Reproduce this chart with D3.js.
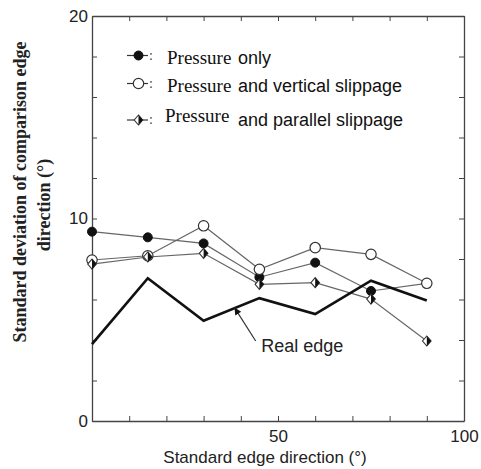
<!DOCTYPE html>
<html>
<head>
<meta charset="utf-8">
<script src="https://cdn.jsdelivr.net/npm/d3@7"></script>
<style>
  body { margin: 0; background: #fff; }
  svg { display: block; }
</style>
</head>
<body>
<div id="chart"></div>
<script>
// --------------- Data ---------------
const directions = [0, 15, 30, 45, 60, 75, 90];
const pressureOnly = [9.35, 9.07, 8.77, 7.1, 7.82, 6.42, 6.8];
const verticalSlip = [7.95, 8.16, 9.64, 7.49, 8.56, 8.23, 6.8];
const parallelSlip = [7.75, 8.1, 8.28, 6.75, 6.83, 6.02, 3.95];
const realEdge = [3.8, 7.05, 4.95, 6.07, 5.28, 6.93, 5.95];

const xTickValues = [0, 10, 20, 30, 40, 50, 60, 70, 80, 90, 100];
const xTickLabels = [50, 100];
const yTickValues = [0, 2, 4, 6, 8, 10, 12, 14, 16, 18, 20];
const yTickLabels = [0, 10, 20];

const legendNames = ["Pressure only", "Pressure and vertical slippage", "Pressure and parallel slippage"];
// arrow tip / tail and label position, in data units
const realEdgeNote = { tip: [38.3, 5.6], tail: [44, 3.95], label: [45.5, 3.42], text: "Real edge" };

// --------------- Constants ---------------
const WIDTH = 481;
const HEIGHT = 469;
const MARGINS = { top: 16, right: 17, bottom: 48, left: 92 };
const VIS_WIDTH = WIDTH - MARGINS.left - MARGINS.right;
const VIS_HEIGHT = HEIGHT - MARGINS.top - MARGINS.bottom;
const SANS = "Arial, 'Liberation Sans', sans-serif";
const SERIF = "'Times New Roman', 'Liberation Serif', serif";
const AXIS_COLOR = "#444";
const LINE_COLOR = "#666";

const svg = d3.select("#chart")
  .append("svg")
  .attr("width", WIDTH)
  .attr("height", HEIGHT);

const g = svg.append("g")
  .attr("transform", `translate(${MARGINS.left},${MARGINS.top})`);

const X_SCALE = d3.scaleLinear().domain([0, 100]).range([0, VIS_WIDTH]);
const Y_SCALE = d3.scaleLinear().domain([0, 20]).range([VIS_HEIGHT, 0]);

// --------------- Axes (ticks point inward on all four sides) ---------------
const styleAxis = (sel) => {
  sel.select(".domain").attr("stroke", AXIS_COLOR).attr("stroke-width", 1.3);
  sel.selectAll(".tick line").attr("stroke", AXIS_COLOR).attr("stroke-width", 1);
  sel.selectAll("text")
    .attr("font-family", SANS)
    .attr("font-size", "17px")
    .attr("fill", "#222");
};

g.append("g")
  .attr("transform", `translate(0,${VIS_HEIGHT})`)
  .call(d3.axisBottom(X_SCALE).tickValues(xTickValues).tickSize(-5).tickSizeOuter(0)
    .tickPadding(9).tickFormat((d) => (xTickLabels.includes(d) ? d : "")))
  .call(styleAxis);

g.append("g")
  .call(d3.axisTop(X_SCALE).tickValues(xTickValues).tickSize(-5).tickSizeOuter(0)
    .tickFormat(""))
  .call(styleAxis);

g.append("g")
  .call(d3.axisLeft(Y_SCALE).tickValues(yTickValues).tickSize(-5).tickSizeOuter(0)
    .tickPadding(4).tickFormat((d) => (yTickLabels.includes(d) ? d : "")))
  .call(styleAxis);

g.append("g")
  .attr("transform", `translate(${VIS_WIDTH},0)`)
  .call(d3.axisRight(Y_SCALE).tickValues(yTickValues).tickSize(-5).tickSizeOuter(0)
    .tickFormat(""))
  .call(styleAxis);

// --------------- Axis titles ---------------
svg.append("text")
  .attr("x", 265)
  .attr("y", HEIGHT - 6)
  .attr("text-anchor", "middle")
  .attr("font-family", SANS)
  .attr("font-size", "17px")
  .attr("fill", "#222")
  .text("Standard edge direction (°)");

const yTitle = svg.append("text")
  .attr("transform", "rotate(-90)")
  .attr("text-anchor", "middle")
  .attr("font-family", SERIF)
  .attr("font-weight", "bold")
  .attr("font-size", "18px")
  .attr("fill", "#222");
yTitle.append("tspan").attr("x", -192).attr("y", 26).text("Standard deviation of comparison edge");
yTitle.append("tspan").attr("x", -205).attr("y", 50).text("direction (°)");

// --------------- Markers ---------------
const drawMarker = (sel, kind) => {
  if (kind === "filled") {
    sel.append("circle").attr("r", 4.5).attr("fill", "#111").attr("stroke", "#111");
  } else if (kind === "open") {
    sel.append("circle").attr("r", 5.2).attr("fill", "#fff").attr("stroke", "#333").attr("stroke-width", 1.2);
  } else {
    sel.append("path").attr("d", "M0,-5L4.3,0L0,5L-4.3,0Z")
      .attr("fill", "#fff").attr("stroke", "#333").attr("stroke-width", 1.1);
    sel.append("path").attr("d", "M0,-5L4.3,0L0,5Z").attr("fill", "#111");
  }
};

const series = [
  { values: pressureOnly, kind: "filled" },
  { values: verticalSlip, kind: "open" },
  { values: parallelSlip, kind: "diamond" },
];

const line = d3.line()
  .x((d) => X_SCALE(d[0]))
  .y((d) => Y_SCALE(d[1]));

const pairs = (values) => directions.map((x, i) => [x, values[i]]);

// thin series lines
series.forEach((s) => {
  g.append("path")
    .datum(pairs(s.values))
    .attr("fill", "none")
    .attr("stroke", LINE_COLOR)
    .attr("stroke-width", 1.2)
    .attr("d", line);
});

// real edge: heavy black line
g.append("path")
  .datum(pairs(realEdge))
  .attr("fill", "none")
  .attr("stroke", "#111")
  .attr("stroke-width", 2.7)
  .attr("stroke-linejoin", "miter")
  .attr("d", line);

// markers on top of the lines
series.forEach((s) => {
  g.append("g")
    .selectAll("g")
    .data(pairs(s.values))
    .enter()
    .append("g")
    .attr("transform", (d) => `translate(${X_SCALE(d[0])},${Y_SCALE(d[1])})`)
    .each(function () { drawMarker(d3.select(this), s.kind); });
});

// --------------- Real edge annotation ---------------
svg.append("defs").append("marker")
  .attr("id", "arrow")
  .attr("viewBox", "0 0 10 10")
  .attr("refX", 10)
  .attr("refY", 5)
  .attr("markerWidth", 10)
  .attr("markerHeight", 7)
  .attr("markerUnits", "userSpaceOnUse")
  .attr("orient", "auto")
  .append("path")
  .attr("d", "M0,0L10,5L0,10Z")
  .attr("fill", "#111");

g.append("line")
  .attr("x1", X_SCALE(realEdgeNote.tail[0]))
  .attr("y1", Y_SCALE(realEdgeNote.tail[1]))
  .attr("x2", X_SCALE(realEdgeNote.tip[0]))
  .attr("y2", Y_SCALE(realEdgeNote.tip[1]))
  .attr("stroke", "#333")
  .attr("stroke-width", 1.2)
  .attr("marker-end", "url(#arrow)");

g.append("text")
  .attr("x", X_SCALE(realEdgeNote.label[0]))
  .attr("y", Y_SCALE(realEdgeNote.label[1]))
  .attr("font-family", SANS)
  .attr("font-size", "18px")
  .attr("fill", "#222")
  .text(realEdgeNote.text);

// --------------- Legend ---------------
const legendRows = [
  { y: 55.5, base: 63.5, rest: "only", serifShift: 0 },
  { y: 83.5, base: 92, rest: "and vertical slippage", serifShift: 0 },
  { y: 120, base: 125.5, rest: "and parallel slippage", serifShift: -3.5 },
];

legendRows.forEach((row, i) => {
  const lg = svg.append("g");
  lg.append("line")
    .attr("x1", 127).attr("x2", 148)
    .attr("y1", row.y).attr("y2", row.y)
    .attr("stroke", "#333").attr("stroke-width", 1.2);
  drawMarker(lg.append("g").attr("transform", `translate(138.5,${row.y})`), series[i].kind);
  lg.append("text")
    .attr("x", 149).attr("y", row.y + 4)
    .attr("font-family", SERIF).attr("font-size", "14px").attr("fill", "#444")
    .text(":");
  lg.append("text")
    .attr("x", i === 2 ? 165 : 167).attr("y", row.base + row.serifShift)
    .attr("font-family", SERIF).attr("font-size", "19px").attr("fill", "#111")
    .text(legendNames[i].split(" ")[0]);
  lg.append("text")
    .attr("x", 238).attr("y", row.base)
    .attr("font-family", SANS).attr("font-size", "18px").attr("fill", "#111")
    .text(row.rest);
});
</script>
</body>
</html>
